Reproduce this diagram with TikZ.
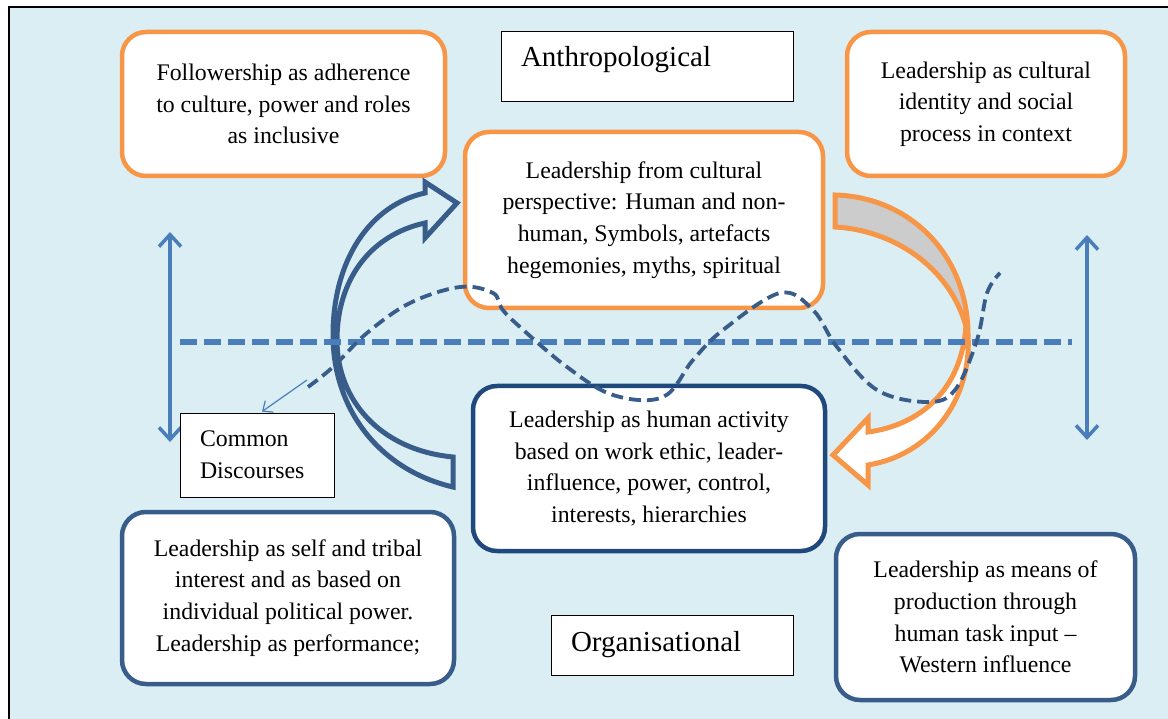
\documentclass[tikz,border=0pt]{standalone}
\usepackage{fontspec}
\setmainfont{Liberation Serif}
\usepackage{tikz}
\usetikzlibrary{arrows,arrows.meta}
\usetikzlibrary{calc,shapes}

\definecolor{fond}{RGB}{219,238,244}
\definecolor{orangeligne}{RGB}{247,150,70}
\definecolor{bleufonce}{RGB}{31,73,125}
\definecolor{bleucadre}{RGB}{56,93,138}
\definecolor{bleuclair}{RGB}{74,126,187}
\definecolor{grisfleche}{RGB}{204,204,204}

\tikzset{
	texte/.style={font=\fontsize{23.8}{31.7}\selectfont},
	grandtexte/.style={font=\fontsize{29}{34}\selectfont},
	cadreorange/.style={draw=orangeligne,line width=4.5pt,fill=white,rounded corners=24pt,align=center,inner sep=0pt,texte},
	cadrebleu/.style={draw=bleucadre,line width=4.5pt,fill=white,rounded corners=24pt,align=center,inner sep=0pt,texte},
	cadresimple/.style={draw=black,line width=0.8pt,fill=white,align=left,inner sep=0pt},
	fleche/.style={draw=bleuclair,line width=3.5pt,>={Straight Barb[length=12pt,width=22pt]}},
}

\begin{document}
\begin{tikzpicture}[x=1pt,y=-1pt]
						\useasboundingbox (0,0) rectangle (1168,719);
						% Fond
						\fill[fond] (9,7) rectangle (1168,719);
						\draw[line width=2pt] (9,719) -- (9,7) -- (1168,7);
						% Flèches verticales
						\coordinate (hautG) at (170,232);
						\coordinate (basG) at (170,442);
						\coordinate (hautD) at (1087,235);
						\coordinate (basD) at (1087,440);
						\draw[fleche,<->] (hautG) -- (basG);
						\draw[fleche,<->] (hautD) -- (basD);
						% Cadres
						\node[cadreorange,minimum width=323,minimum height=144] (suivre) at (283.5,104) {Followership as adherence\\to culture, power and roles\\as inclusive};
						\node[cadresimple,grandtexte,minimum width=292,minimum height=70,text width=252,text depth=20pt] (anthro) at (647,66) {Anthropological};
						\node[cadreorange,minimum width=278,minimum height=144] (identite) at (986,104) {Leadership as cultural\\identity and social\\process in context};
						\node[cadreorange,minimum width=358,minimum height=176] (culture) at (644,220) {Leadership from cultural\\perspective: Human and non-\\human, Symbols, artefacts\\hegemonies, myths, spiritual};
						\node[cadrebleu,draw=bleufonce,minimum width=352,minimum height=165] (humain) at (649,468.5) {Leadership as human activity\\based on work ethic, leader-\\influence, power, control,\\interests, hierarchies};
						\node[cadresimple,texte,minimum width=154,minimum height=84,text width=114] (commun) at (257,455) {Common\\Discourses};
						\node[cadrebleu,minimum width=332,minimum height=172] (tribal) at (288,598) {Leadership as self and tribal\\interest and as based on\\individual political power.\\Leadership as performance;};
						\node[cadresimple,grandtexte,minimum width=242,minimum height=60,text width=202] (orga) at (672,645) {Organisational};
						\node[cadrebleu,minimum width=299,minimum height=166] (ouest) at (985.5,617) {Leadership as means of\\production through\\human task input --\\Western influence};
						% Flèche courbe bleue
						\draw[bleucadre,line width=5pt,line join=miter] (453,487) .. controls (380,470) and (333,410) .. (333,335)
							.. controls (333,260) and (370,205) .. (425,193) -- (425,182) -- (457,203) -- (425,238) -- (425,223)
							.. controls (370,235) and (337,280) .. (337,340) .. controls (337,400) and (380,450) .. (453,457) -- cycle;
						% Flèche courbe orange
						\filldraw[draw=orangeligne,fill=grisfleche,line width=5pt,line join=miter] (835,195) .. controls (910,197) and (968,255) .. (968,335)
							.. controls (955,270) and (895,230) .. (835,227) -- cycle;
						\filldraw[draw=orangeligne,fill=white,line width=5pt,line join=miter] (966,325) .. controls (962,390) and (920,425) .. (868,432)
							-- (868,418) -- (833,455) -- (868,485) -- (868,465) .. controls (930,455) and (972,400) .. (968,335) -- cycle;
						% Lignes pointillées
						\draw[bleuclair,line width=5.5pt,dash pattern=on 17pt off 7pt] (180,342) -- (1072,342);
						\draw[bleucadre,line width=3.8pt,dash pattern=on 12pt off 6pt] plot[smooth,tension=0.6] coordinates {(308,387) (333,367) (367,333) (410,303) (460,287) (493,293) (502,309) (520,327) (567,367) (613,395) (663,397) (693,360) (723,330) (780,293) (813,310) (837,347) (877,390) (927,402) (955,390) (977,340) (987,293) (1000,273)};
						% Flèche vers Common Discourses
						\coordinate (depart) at (307,380);
						\draw[fleche,line width=1.2pt,->,>={Straight Barb[length=8pt,width=14pt]}] (depart) -- ($(commun.north)+(5,-1)$);
\end{tikzpicture}
\end{document}
